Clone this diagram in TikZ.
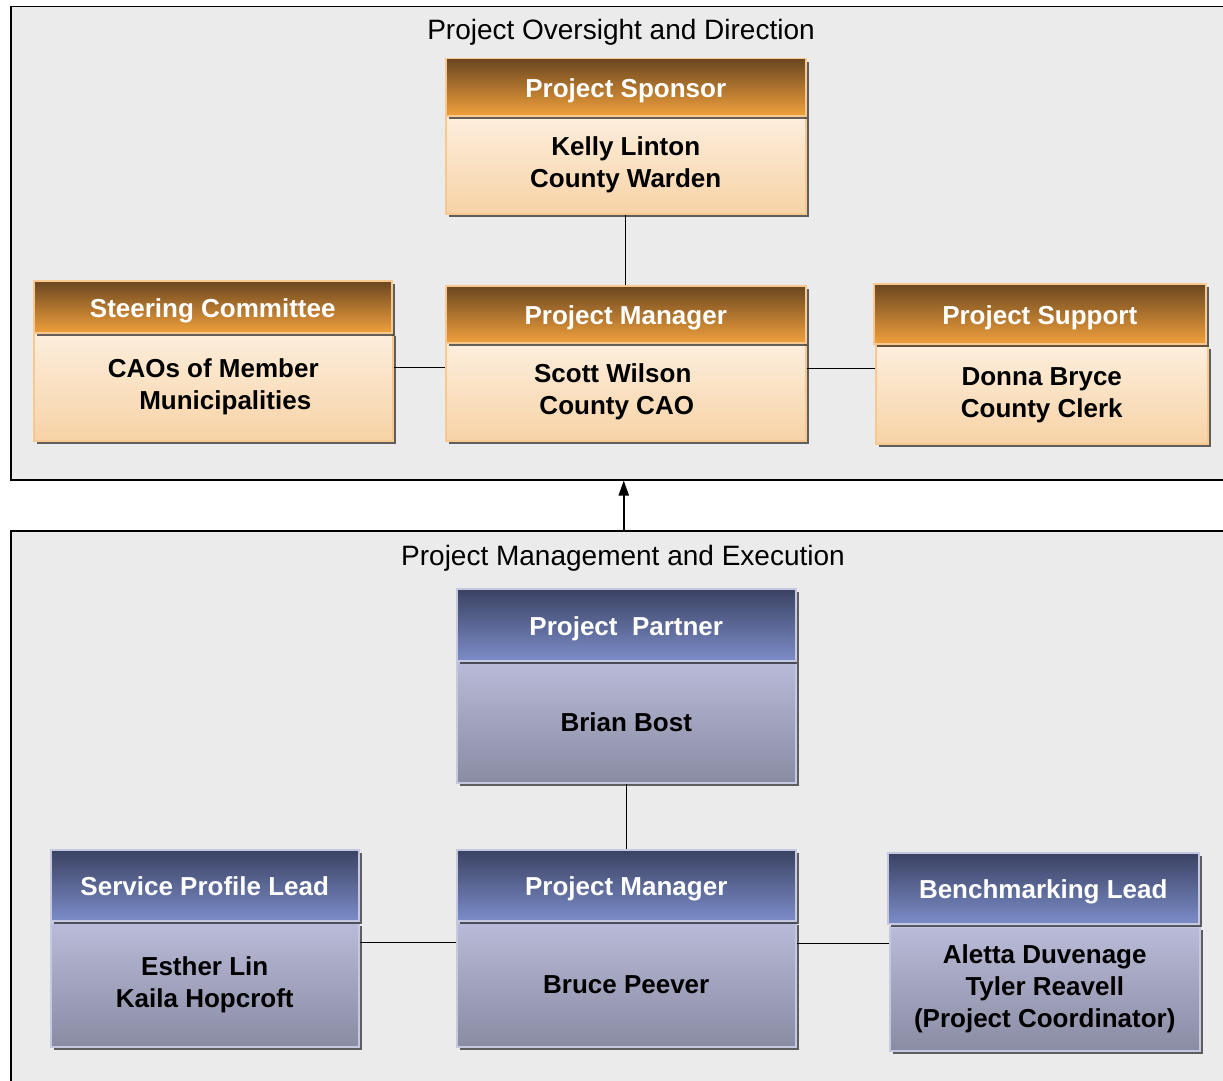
\documentclass[tikz,border=0pt]{standalone}
\usepackage{fontspec}
\setmainfont{Liberation Sans}
\usetikzlibrary{shadows,arrows.meta}
\definecolor{framebg}{HTML}{EBEBEB}
\definecolor{ohtop}{HTML}{6A4620}
\definecolor{ohbot}{HTML}{F0A03C}
\definecolor{obtop}{HTML}{FDEEDD}
\definecolor{obbot}{HTML}{F7D3A6}
\definecolor{oedge}{HTML}{F7C890}
\definecolor{bhtop}{HTML}{3A4262}
\definecolor{bhbot}{HTML}{7C8CC8}
\definecolor{bbtop}{HTML}{B9BBD8}
\definecolor{bbbot}{HTML}{8A8CA4}
\definecolor{bedge}{HTML}{C4C8E0}
\tikzset{
  frame/.style={rectangle, draw=black, line width=1.5pt, fill=framebg, anchor=north west, inner sep=0pt},
  title/.style={font=\fontsize{28}{32}\selectfont, text=black},
  boxbase/.style={rectangle, anchor=north west, inner sep=0pt, line width=1.5pt, align=center,
     font=\bfseries\fontsize{26}{32}\selectfont,
     drop shadow={shadow xshift=3pt, shadow yshift=-3pt, opacity=0.6, fill=black}},
  headtext/.style={text height=27pt, text depth=6pt, text=white},
  ohead/.style={boxbase, draw=oedge, top color=ohtop, bottom color=ohbot, headtext},
  obody/.style={boxbase, draw=oedge, top color=obtop, bottom color=obbot, text=black},
  bhead/.style={boxbase, draw=bedge, top color=bhtop, bottom color=bhbot, headtext},
  bbody/.style={boxbase, draw=bedge, top color=bbtop, bottom color=bbbot, text=black},
  conn/.style={draw=black, line width=1.3pt}
}
\begin{document}
\begin{tikzpicture}[x=1pt,y=-1pt]
\useasboundingbox (0,0) rectangle (1223,1081);
% frames
\node[frame, minimum width=1226pt, minimum height=473pt] (topframe) at (10,6) {};
\node[frame, minimum width=1226pt, minimum height=570pt] (botframe) at (10,530) {};
\node[title] (toptitle) at (621,32) {Project Oversight and Direction};
\node[title] (bottitle) at (623,558) {Project Management and Execution};

% top (orange) boxes: body first, header on top
\node[obody, minimum width=360pt, minimum height=98pt] (sponsorB) at (445,115) {Kelly Linton\\County Warden};
\node[ohead, minimum width=360pt, minimum height=57pt] (sponsorH) at (445,58) {Project Sponsor};

\node[obody, minimum width=359pt, minimum height=108pt] (steerB) at (33,332) {CAOs of Member\\\hspace*{24pt}Municipalities};
\node[ohead, minimum width=358pt, minimum height=52pt] (steerH) at (33,280) {Steering Committee};

\node[obody, minimum width=360pt, minimum height=98pt] (pmB) at (445,342) {\hspace*{-26pt}Scott Wilson\\\hspace*{-18pt}County CAO};
\node[ohead, minimum width=360pt, minimum height=57pt] (pmH) at (445,285) {Project Manager};

\node[obody, minimum width=332pt, minimum height=98pt] (supB) at (875,345) {Donna Bryce\\County Clerk};
\node[ohead, minimum width=332pt, minimum height=60pt] (supH) at (873,283) {Project Support};

% bottom (blue) boxes
\node[bbody, minimum width=339pt, minimum height=122pt] (partB) at (456,660) {Brian Bost};
\node[bhead, minimum width=339pt, minimum height=72pt] (partH) at (456,588) {Project\ \ Partner};

\node[bbody, minimum width=339pt, minimum height=125pt] (pm2B) at (456,921) {Bruce Peever};
\node[bhead, minimum width=339pt, minimum height=71pt] (pm2H) at (456,849) {Project Manager};

\node[bbody, minimum width=308pt, minimum height=124pt] (servB) at (50,922) {Esther Lin\\Kaila Hopcroft};
\node[bhead, minimum width=308pt, minimum height=71pt] (servH) at (50,849) {Service Profile Lead};

\node[bbody, minimum width=310pt, minimum height=124pt] (benchB) at (889,926) {Aletta Duvenage\\Tyler Reavell\\(Project Coordinator)};
\node[bhead, minimum width=311pt, minimum height=71pt] (benchH) at (887,852) {Benchmarking Lead};

% connectors
\draw[conn] (sponsorB.south) -- (pmH.north);
\coordinate (c1) at ([yshift=19pt]steerB.east);
\draw[conn] (c1) -- (c1 -| pmB.west);
\coordinate (c2) at ([yshift=23pt]pmB.east);
\draw[conn] (c2) -- (c2 -| supB.west);

\draw[conn] (partB.south) -- (pm2H.north);
\coordinate (c3) at ([yshift=42pt]servB.east);
\draw[conn] (c3) -- (c3 -| pm2B.west);
\coordinate (c4) at ([yshift=41pt]pm2B.east);
\draw[conn] (c4) -- (c4 -| benchB.west);

\draw[draw=black, line width=2pt, -{Triangle[length=15pt,width=10pt]}] (botframe.north) -- (topframe.south);
\end{tikzpicture}
\end{document}
